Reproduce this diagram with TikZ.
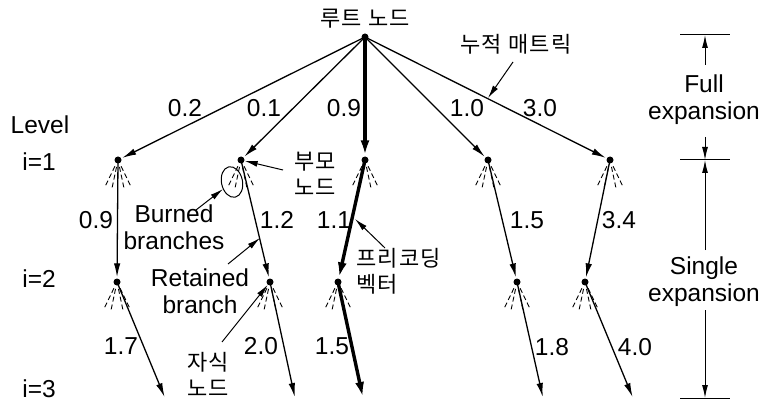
\documentclass[tikz,border=0pt]{standalone}
\usepackage{fontspec}
\setmainfont{Liberation Sans}
\newfontfamily\kr{Noto Sans CJK KR}[LetterSpace=6]
\usetikzlibrary{arrows.meta,shapes.geometric}
\begin{document}
\begin{tikzpicture}[x=1pt,y=-1pt,
  dot/.style={circle,fill=black,inner sep=0pt,minimum size=7pt},
  edge/.style={line width=1.3pt,-{Latex[length=14pt,width=6.5pt]},shorten >=1pt},
  boldedge/.style={line width=3.4pt,-{Latex[length=15pt,width=9pt]},shorten >=1pt},
  note/.style={line width=1pt,-{Latex[length=13pt,width=6pt]}},
  lbl/.style={font=\fontsize{24.5}{27}\selectfont,inner sep=0pt},
  klbl/.style={font=\kr\fontsize{22}{26}\selectfont,inner sep=0pt,align=center},
  burn/.style={line width=0.9pt,dash pattern=on 5pt off 3pt},
  dim/.style={line width=1pt}]
\useasboundingbox (0,0) rectangle (762,403);
% nodes
\node[dot] (r) at (365,37) {};
\node[dot] (a1) at (118,160) {};
\node[dot] (a2) at (241,160) {};
\node[dot] (a3) at (365,160) {};
\node[dot] (a4) at (488,160) {};
\node[dot] (a5) at (610,160) {};
\node[dot] (b1) at (117,282) {};
\node[dot] (b2) at (270,282) {};
\node[dot] (b3) at (338,282) {};
\node[dot] (b4) at (517,282) {};
\node[dot] (b5) at (585,282) {};
\coordinate (c1) at (165,398);
\coordinate (c2) at (295,398);
\coordinate (c3) at (363,398);
\coordinate (c4) at (543,398);
\coordinate (c5) at (633,398);
% burned branch fans
\foreach \n in {a1,a2,a3,a4,a5,b1,b2,b3,b4,b5}{
  \foreach \ang in {64,78,102,116}{
    \draw[burn] (\n.center) ++(\ang:7) -- ++(\ang:22);
  }
}
% edges
\draw[edge] (r.center) -- (a1);
\draw[edge] (r.center) -- (a2);
\draw[boldedge] (r.center) -- (a3);
\draw[edge] (r.center) -- (a4);
\draw[edge] (r.center) -- (a5);
\draw[edge] (a1.center) -- (b1);
\draw[edge] (a2.center) -- (b2);
\draw[boldedge] (a3.center) -- (b3);
\draw[edge] (a4.center) -- (b4);
\draw[edge] (a5.center) -- (b5);
\draw[edge] (b1.center) -- (c1);
\draw[edge] (b2.center) -- (c2);
\draw[boldedge] (b3.center) -- (c3);
\draw[edge] (b4.center) -- (c4);
\draw[edge] (b5.center) -- (c5);
% edge labels
\node[lbl] (l01) at (185,108) {0.2};
\node[lbl] (l02) at (264,108) {0.1};
\node[lbl] (l03) at (344,108) {0.9};
\node[lbl] (l04) at (467,108) {1.0};
\node[lbl] (l05) at (540,108) {3.0};
\node[lbl] (l11) at (96,220) {0.9};
\node[lbl] (l12) at (277,220) {1.2};
\node[lbl] (l13) at (334,220) {1.1};
\node[lbl] (l14) at (527,220) {1.5};
\node[lbl] (l15) at (619,220) {3.4};
\node[lbl] (l21) at (121,346) {1.7};
\node[lbl] (l22) at (261,346) {2.0};
\node[lbl] (l23) at (332,346) {1.5};
\node[lbl] (l24) at (552,347) {1.8};
\node[lbl] (l25) at (635,347) {4.0};
% level labels
\node[lbl] (lev) at (40,125) {Level};
\node[lbl] (i1) at (39,162) {i=1};
\node[lbl] (i2) at (39,279) {i=2};
\node[lbl] (i3) at (39,389) {i=3};
% korean labels
\node[klbl] (root) at (365,19) {루트 노드};
\node[klbl] (cum) at (516,44) {누적 매트릭};
\node[klbl] (par) at (315,174) {부모\\노드};
\node[klbl,align=left,anchor=west] (pre) at (356,271) {프리코딩\\벡터};
\node[klbl] (chi) at (208,374) {자식\\노드};
% english annotation labels
\node[lbl,align=center] (burned) at (174,227) {Burned\\branches};
\node[lbl,align=center] (ret) at (200,291) {Retained\\branch};
% burned ellipse
\node[draw,ellipse,line width=1pt,minimum width=21pt,minimum height=31pt,inner sep=0pt,rotate=12] (el) at (232,182) {};
% annotation arrows
\coordinate (cumS) at (513,62);
\coordinate (cumE) at (488,98);
\draw[note] (cumS) -- (cumE);
\coordinate (parS) at (283,170);
\draw[note] (parS) -- (a2);
\coordinate (burS) at (196,210);
\coordinate (burE) at (223,189);
\draw[note] (burS) -- (burE);
\coordinate (retS) at (228,264);
\coordinate (retE) at (260,238);
\draw[note] (retS) -- (retE);
\coordinate (chiS) at (222,342);
\draw[note] (chiS) -- (b2);
\coordinate (preS) at (385,248);
\coordinate (preE) at (355,219);
\draw[note] (preS) -- (preE);
% dimension lines
\coordinate (t1a) at (680,35); \coordinate (t1b) at (730,35);
\coordinate (t2a) at (680,160); \coordinate (t2b) at (730,160);
\coordinate (t3a) at (680,398); \coordinate (t3b) at (730,398);
\draw[dim] (t1a) -- (t1b);
\draw[dim] (t2a) -- (t2b);
\draw[dim] (t3a) -- (t3b);
\node[lbl,align=center] (full) at (704,100) {Full\\expansion};
\node[lbl,align=center] (single) at (704,282) {Single\\expansion};
\coordinate (d1s) at (705,65); \coordinate (d1e) at (705,35);
\coordinate (d2s) at (705,137); \coordinate (d2e) at (705,160);
\coordinate (d3s) at (705,250); \coordinate (d3e) at (705,160);
\coordinate (d4s) at (705,310); \coordinate (d4e) at (705,398);
\draw[note] (d1s) -- (d1e);
\draw[note] (d2s) -- (d2e);
\draw[note] (d3s) -- (d3e);
\draw[note] (d4s) -- (d4e);
\end{tikzpicture}
\end{document}
